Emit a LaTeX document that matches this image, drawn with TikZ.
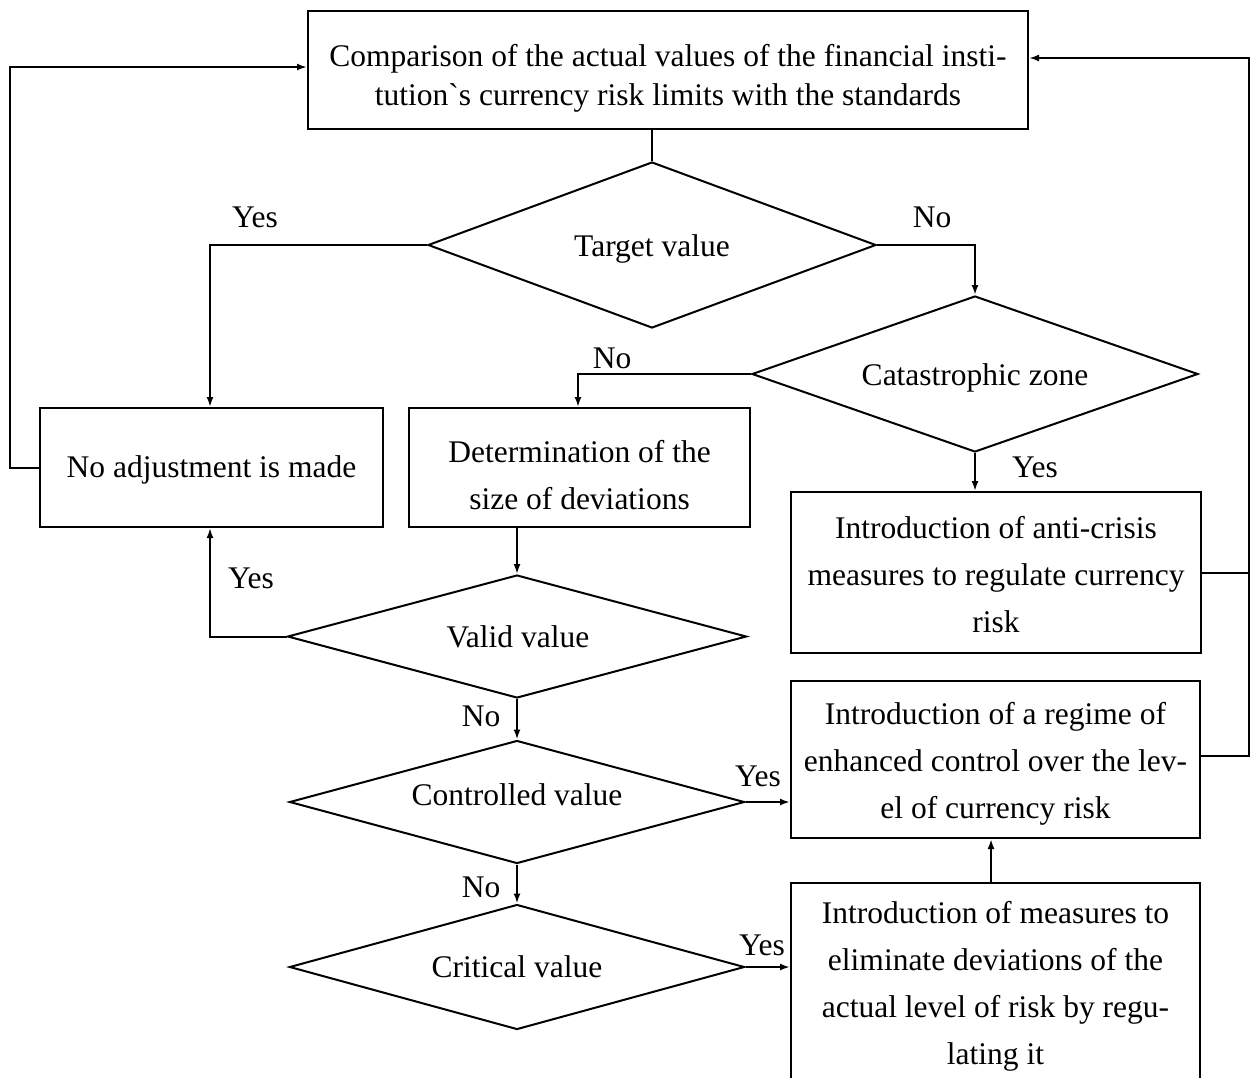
\documentclass[tikz,border=0pt]{standalone}
\usepackage{fontspec}
\setmainfont{Liberation Serif}
\newfontfamily\rawser{Liberation Serif}
\usetikzlibrary{shapes.geometric,arrows.meta}
\begin{document}
\begin{tikzpicture}[x=0.5pt,y=-0.5pt,
  every node/.style={font=\fontsize{15.75}{23.5}\selectfont},
  box/.style={draw,line width=1pt,inner sep=0pt},
  dia/.style={draw,line width=1pt,diamond,inner sep=0pt},
  txt/.style={inner sep=0pt,align=center},
  lbl/.style={inner sep=0pt},
  conn/.style={line width=1pt},
  arr/.style={line width=1pt,-{Latex[length=5pt,width=3.5pt]}}]
\clip (0,0) rectangle (1258,1077);
\fill[white] (0,0) rectangle (1258,1077);
% boxes
\node[box,minimum width=360pt,minimum height=59pt] (top) at (668,70) {};
\node[txt,font=\fontsize{15.75}{19.5}\selectfont] (top-t) at (668,78)
  {Comparison of the actual values of the financial insti-\\tution{\rawser`}s currency risk limits with the standards};
\node[box,minimum width=171.5pt,minimum height=59.5pt] (noadj) at (211.5,467.5) {};
\node[txt] (noadj-t) at (211.5,469.5) {No adjustment is made};
\node[box,minimum width=170.5pt,minimum height=59.5pt] (det) at (579.5,467.5) {};
\node[txt] (det-t) at (579.5,475.5) {Determination of the\\size of deviations};
\node[box,minimum width=205pt,minimum height=80.5pt] (anti) at (996,572.5) {};
\node[txt] (anti-t) at (996,574.5) {Introduction of anti-crisis\\measures to regulate currency\\risk};
\node[box,minimum width=204.5pt,minimum height=78.5pt] (enh) at (995.5,759.5) {};
\node[txt] (enh-t) at (995.5,763.5) {Introduction of a regime of\\enhanced control over the lev-\\el of currency risk};
\node[box,minimum width=204.5pt,minimum height=103.5pt] (meas) at (995.5,986.5) {};
\node[txt] (meas-t) at (995.5,986.5) {Introduction of measures to\\eliminate deviations of the\\actual level of risk by regu-\\lating it};
% diamonds
\node[dia,minimum width=224pt,minimum height=83pt] (target) at (652,245) {};
\node[txt] (target-t) at (652,249) {Target value};
\node[dia,minimum width=223pt,minimum height=78pt] (cat) at (975,374) {};
\node[txt] (cat-t) at (975,378) {Catastrophic zone};
\node[dia,minimum width=229.5pt,minimum height=61.5pt] (valid) at (517,636.5) {};
\node[txt] (valid-t) at (518,636.5) {Valid value};
\node[dia,minimum width=227.5pt,minimum height=61.5pt] (ctrl) at (517,802) {};
\node[txt] (ctrl-t) at (517,795) {Controlled value};
\node[dia,minimum width=227.5pt,minimum height=62.5pt] (crit) at (517,967) {};
\node[txt] (crit-t) at (517,967) {Critical value};
% labels
\node[lbl] (l1) at (255,217) {Yes};
\node[lbl] (l2) at (932,217) {No};
\node[lbl] (l3) at (612,358) {No};
\node[lbl] (l4) at (1035,467) {Yes};
\node[lbl] (l5) at (251,578) {Yes};
\node[lbl] (l6) at (481,716) {No};
\node[lbl] (l7) at (758,776) {Yes};
\node[lbl] (l8) at (481,887) {No};
\node[lbl] (l9) at (762,945) {Yes};
% connectors
\draw[conn] (target.north |- top.south) -- (target.north);
\draw[arr] (target.west) -| (noadj.north -| 210,0);
\draw[arr] (target.east) -| (cat.north);
\draw[arr] (cat.west) -| (det.north -| 578,0);
\draw[arr] (cat.south) -- (cat.south |- anti.north);
\coordinate (lt) at (10,67);
\draw[arr] (noadj.west) -| (lt) -- (lt -| top.west);
\draw[arr] (valid.north |- det.south) -- (valid.north);
\draw[arr] (valid.west) -| (noadj.south -| 210,0);
\draw[arr] (valid.south) -- (ctrl.north);
\draw[arr] (ctrl.east) -- (ctrl.east -| enh.west);
\draw[arr] (ctrl.south) -- (crit.north);
\draw[arr] (crit.east) -- (crit.east -| meas.west);
\draw[arr] (meas.north -| 991,0) -- (enh.south -| 991,0);
\coordinate (rt) at (1249,58);
\draw[conn] (anti.east) -- (anti.east -| rt);
\draw[arr] ([yshift=2pt]enh.east) -| (rt) -- (rt -| top.east);
\end{tikzpicture}
\end{document}
